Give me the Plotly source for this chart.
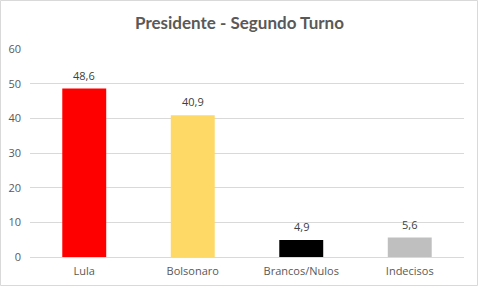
import plotly.graph_objects as go

categories = ["Lula", "Bolsonaro", "Brancos/Nulos", "Indecisos"]
values = [48.6, 40.9, 4.9, 5.6]
labels = ["48,6", "40,9", "4,9", "5,6"]
colors = ["#FF0000", "#FFD966", "#000000", "#BFBFBF"]

W, H = 479, 287
ml, mr, mt, mb = 30, 15, 49, 30
pw, ph = W - ml - mr, H - mt - mb

fig = go.Figure(go.Bar(
    x=categories, y=values,
    marker=dict(color=colors, line=dict(width=0)),
    cliponaxis=False,
))

annotations = [
    dict(x=c, y=v, text=t, showarrow=False, xref="x", yref="y",
         yanchor="bottom", yshift=4,
         font=dict(size=11, color="#404040"))
    for c, v, t in zip(categories, values, labels)
]

fig.update_layout(
    width=W, height=H,
    margin=dict(l=ml, r=mr, t=mt, b=mb, autoexpand=False),
    paper_bgcolor="white", plot_bgcolor="white",
    font=dict(family="Open Sans, Liberation Sans, sans-serif", size=11, color="#595959"),
    title=dict(text="<b>Presidente - Segundo Turno</b>", x=0.5, xanchor="center",
               y=1 - 23 / H, yanchor="middle",
               font=dict(family="Lato, Open Sans, sans-serif", size=17, color="#595959")),
    bargap=0.595,
    showlegend=False,
    annotations=annotations,
    xaxis=dict(showgrid=False, showline=True, linecolor="#D9D9D9", linewidth=1,
               ticks="", tickfont=dict(size=11, color="#595959"), ticklabelstandoff=4,
               automargin=False),
    yaxis=dict(range=[0, 60], dtick=10, showgrid=True, gridcolor="#D9D9D9",
               zeroline=False, showline=False, ticks="",
               tickfont=dict(size=11, color="#595959"), ticklabelstandoff=8,
               automargin=False),
    shapes=[dict(type="rect", xref="paper", yref="paper",
                 x0=-(ml - 0.5) / pw, x1=1 + (mr - 1.5) / pw,
                 y0=-(mb - 1.5) / ph, y1=1 + (mt - 0.5) / ph,
                 line=dict(color="#D9D9D9", width=1))],
)

fig.write_html("out.html")
